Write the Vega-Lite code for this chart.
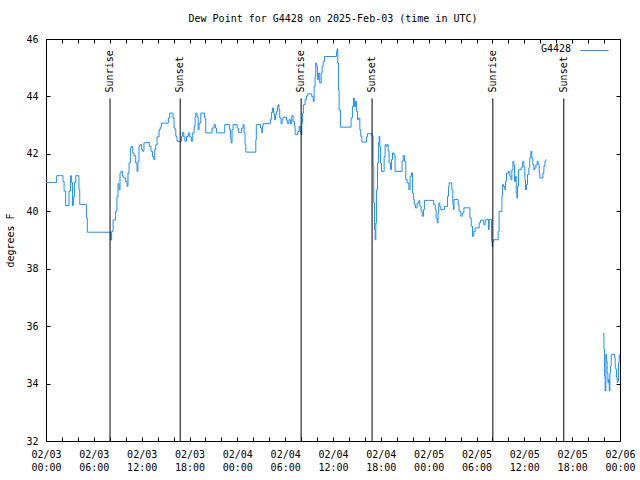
{
  "$schema": "https://vega.github.io/schema/vega-lite/v6.json",
  "width": 574,
  "height": 402,
  "autosize": {"type": "none"},
  "padding": {"left": 46, "top": 39, "right": 20, "bottom": 39},
  "background": "white",
  "title": {"text": "Dew Point for G4428 on 2025-Feb-03 (time in UTC)", "font": "DejaVu Sans Mono", "fontSize": 10, "fontWeight": "normal", "anchor": "middle", "frame": "group", "offset": 10, "color": "black"},
  "config": {
    "font": "DejaVu Sans Mono",
    "view": {"stroke": "black", "strokeWidth": 1},
    "axis": {"grid": false, "domain": false, "ticks": true, "zindex": 1, "tickColor": "black", "tickOpacity": 1, "labelColor": "black", "labelFont": "DejaVu Sans Mono", "labelFontSize": 10, "titleFont": "DejaVu Sans Mono", "titleFontSize": 10, "titleFontWeight": "normal", "titleColor": "black", "tickSize": 4, "offset": -4, "tickWidth": 1},
    "legend": {"titleFont": "DejaVu Sans Mono", "titleFontSize": 10, "titleFontWeight": "normal", "titleColor": "black", "labelFont": "DejaVu Sans Mono"}
  },
  "datasets": {
    "dp": [
      {"t": "2025-02-03T00:00Z", "v": 41.0}, {"t": "2025-02-03T01:20Z", "v": 41.24}, {"t": "2025-02-03T02:08Z", "v": 41.04}, {"t": "2025-02-03T02:16Z", "v": 40.7}, {"t": "2025-02-03T02:28Z", "v": 40.2}, {"t": "2025-02-03T02:53Z", "v": 40.7}, {"t": "2025-02-03T03:04Z", "v": 41.24}, {"t": "2025-02-03T03:11Z", "v": 41.0}, {"t": "2025-02-03T03:19Z", "v": 40.2}, {"t": "2025-02-03T03:26Z", "v": 40.5}, {"t": "2025-02-03T03:34Z", "v": 41.0}, {"t": "2025-02-03T03:44Z", "v": 41.24}, {"t": "2025-02-03T04:08Z", "v": 40.75}, {"t": "2025-02-03T04:14Z", "v": 40.24}, {"t": "2025-02-03T05:04Z", "v": 39.77}, {"t": "2025-02-03T05:11Z", "v": 39.27},
      {"t": "2025-02-03T08:07Z", "v": 39.0}, {"t": "2025-02-03T08:14Z", "v": 39.3}, {"t": "2025-02-03T08:25Z", "v": 39.7}, {"t": "2025-02-03T08:44Z", "v": 40.0}, {"t": "2025-02-03T08:54Z", "v": 40.5}, {"t": "2025-02-03T09:02Z", "v": 40.96}, {"t": "2025-02-03T09:10Z", "v": 40.75}, {"t": "2025-02-03T09:17Z", "v": 41.33}, {"t": "2025-02-03T09:25Z", "v": 41.39}, {"t": "2025-02-03T09:37Z", "v": 41.22}, {"t": "2025-02-03T09:45Z", "v": 41.16}, {"t": "2025-02-03T10:00Z", "v": 41.04}, {"t": "2025-02-03T10:10Z", "v": 40.87}, {"t": "2025-02-03T10:17Z", "v": 41.33}, {"t": "2025-02-03T10:25Z", "v": 41.68}, {"t": "2025-02-03T10:35Z", "v": 42.21}, {"t": "2025-02-03T10:43Z", "v": 42.26}, {"t": "2025-02-03T10:53Z", "v": 42.03}, {"t": "2025-02-03T11:02Z", "v": 41.94}, {"t": "2025-02-03T11:15Z", "v": 41.68}, {"t": "2025-02-03T11:25Z", "v": 41.39}, {"t": "2025-02-03T11:32Z", "v": 41.74}, {"t": "2025-02-03T11:40Z", "v": 42.26}, {"t": "2025-02-03T11:46Z", "v": 42.32}, {"t": "2025-02-03T11:59Z", "v": 42.15}, {"t": "2025-02-03T12:07Z", "v": 42.09}, {"t": "2025-02-03T12:17Z", "v": 42.38}, {"t": "2025-02-03T12:30Z", "v": 42.4}, {"t": "2025-02-03T12:57Z", "v": 42.26}, {"t": "2025-02-03T13:10Z", "v": 42.09}, {"t": "2025-02-03T13:21Z", "v": 41.91}, {"t": "2025-02-03T13:31Z", "v": 41.8}, {"t": "2025-02-03T13:38Z", "v": 42.15}, {"t": "2025-02-03T13:46Z", "v": 42.32}, {"t": "2025-02-03T13:56Z", "v": 42.59}, {"t": "2025-02-03T14:11Z", "v": 42.84}, {"t": "2025-02-03T14:20Z", "v": 42.93}, {"t": "2025-02-03T14:28Z", "v": 43.07}, {"t": "2025-02-03T15:21Z", "v": 43.25}, {"t": "2025-02-03T15:31Z", "v": 43.42}, {"t": "2025-02-03T15:56Z", "v": 43.25}, {"t": "2025-02-03T16:04Z", "v": 42.9}, {"t": "2025-02-03T16:12Z", "v": 42.84}, {"t": "2025-02-03T16:17Z", "v": 42.61}, {"t": "2025-02-03T16:26Z", "v": 42.44}, {"t": "2025-02-03T17:00Z", "v": 42.61}, {"t": "2025-02-03T17:07Z", "v": 42.75}, {"t": "2025-02-03T17:17Z", "v": 42.59}, {"t": "2025-02-03T17:26Z", "v": 42.44}, {"t": "2025-02-03T17:37Z", "v": 42.61}, {"t": "2025-02-03T17:52Z", "v": 42.73}, {"t": "2025-02-03T18:02Z", "v": 42.59}, {"t": "2025-02-03T18:14Z", "v": 42.44}, {"t": "2025-02-03T18:24Z", "v": 42.73}, {"t": "2025-02-03T18:35Z", "v": 42.96}, {"t": "2025-02-03T18:42Z", "v": 43.28}, {"t": "2025-02-03T18:47Z", "v": 43.42}, {"t": "2025-02-03T18:57Z", "v": 43.28}, {"t": "2025-02-03T19:05Z", "v": 42.84}, {"t": "2025-02-03T19:12Z", "v": 43.07}, {"t": "2025-02-03T19:25Z", "v": 43.42}, {"t": "2025-02-03T19:52Z", "v": 43.25}, {"t": "2025-02-03T20:02Z", "v": 42.73}, {"t": "2025-02-03T20:50Z", "v": 42.9}, {"t": "2025-02-03T21:05Z", "v": 43.02}, {"t": "2025-02-03T21:15Z", "v": 42.9}, {"t": "2025-02-03T21:23Z", "v": 42.73}, {"t": "2025-02-03T22:25Z", "v": 43.02}, {"t": "2025-02-03T23:00Z", "v": 42.84}, {"t": "2025-02-03T23:08Z", "v": 42.55}, {"t": "2025-02-03T23:13Z", "v": 42.38}, {"t": "2025-02-03T23:20Z", "v": 42.84}, {"t": "2025-02-03T23:28Z", "v": 43.02}, {"t": "2025-02-03T23:58Z", "v": 42.9},
      {"t": "2025-02-04T00:08Z", "v": 42.75}, {"t": "2025-02-04T00:33Z", "v": 42.9}, {"t": "2025-02-04T00:43Z", "v": 43.02}, {"t": "2025-02-04T00:51Z", "v": 42.73}, {"t": "2025-02-04T00:58Z", "v": 42.32}, {"t": "2025-02-04T01:04Z", "v": 42.06}, {"t": "2025-02-04T02:19Z", "v": 42.49}, {"t": "2025-02-04T02:23Z", "v": 43.02}, {"t": "2025-02-04T02:54Z", "v": 42.9}, {"t": "2025-02-04T03:04Z", "v": 42.73}, {"t": "2025-02-04T03:09Z", "v": 42.96}, {"t": "2025-02-04T03:14Z", "v": 43.05}, {"t": "2025-02-04T04:09Z", "v": 43.19}, {"t": "2025-02-04T04:16Z", "v": 43.44}, {"t": "2025-02-04T04:24Z", "v": 43.6}, {"t": "2025-02-04T04:32Z", "v": 43.42}, {"t": "2025-02-04T04:39Z", "v": 43.19}, {"t": "2025-02-04T04:47Z", "v": 43.36}, {"t": "2025-02-04T04:54Z", "v": 43.48}, {"t": "2025-02-04T05:02Z", "v": 43.65}, {"t": "2025-02-04T05:07Z", "v": 43.71}, {"t": "2025-02-04T05:14Z", "v": 43.54}, {"t": "2025-02-04T05:19Z", "v": 43.25}, {"t": "2025-02-04T05:29Z", "v": 43.05}, {"t": "2025-02-04T05:37Z", "v": 43.19}, {"t": "2025-02-04T05:44Z", "v": 43.28}, {"t": "2025-02-04T06:10Z", "v": 43.17}, {"t": "2025-02-04T06:19Z", "v": 43.05}, {"t": "2025-02-04T06:29Z", "v": 43.19}, {"t": "2025-02-04T06:40Z", "v": 43.05}, {"t": "2025-02-04T06:50Z", "v": 43.33}, {"t": "2025-02-04T06:59Z", "v": 43.13}, {"t": "2025-02-04T07:10Z", "v": 42.96}, {"t": "2025-02-04T07:15Z", "v": 42.67}, {"t": "2025-02-04T07:35Z", "v": 42.78}, {"t": "2025-02-04T07:45Z", "v": 42.96}, {"t": "2025-02-04T07:52Z", "v": 42.78}, {"t": "2025-02-04T08:00Z", "v": 42.67}, {"t": "2025-02-04T08:05Z", "v": 43.07}, {"t": "2025-02-04T08:10Z", "v": 43.42}, {"t": "2025-02-04T08:17Z", "v": 43.71}, {"t": "2025-02-04T08:30Z", "v": 43.89}, {"t": "2025-02-04T08:40Z", "v": 44.02}, {"t": "2025-02-04T08:50Z", "v": 44.09}, {"t": "2025-02-04T09:20Z", "v": 44.0}, {"t": "2025-02-04T09:31Z", "v": 43.83}, {"t": "2025-02-04T09:38Z", "v": 44.35}, {"t": "2025-02-04T09:45Z", "v": 44.7}, {"t": "2025-02-04T09:50Z", "v": 45.16}, {"t": "2025-02-04T09:58Z", "v": 45.04}, {"t": "2025-02-04T10:03Z", "v": 44.58}, {"t": "2025-02-04T10:10Z", "v": 44.81}, {"t": "2025-02-04T10:20Z", "v": 44.47}, {"t": "2025-02-04T10:31Z", "v": 44.81}, {"t": "2025-02-04T10:38Z", "v": 45.04}, {"t": "2025-02-04T10:46Z", "v": 45.22}, {"t": "2025-02-04T10:56Z", "v": 45.39}, {"t": "2025-02-04T12:26Z", "v": 45.57}, {"t": "2025-02-04T12:31Z", "v": 45.66}, {"t": "2025-02-04T12:36Z", "v": 45.16}, {"t": "2025-02-04T12:41Z", "v": 44.23}, {"t": "2025-02-04T12:46Z", "v": 43.53}, {"t": "2025-02-04T12:56Z", "v": 42.93}, {"t": "2025-02-04T14:16Z", "v": 43.25}, {"t": "2025-02-04T14:26Z", "v": 43.65}, {"t": "2025-02-04T14:34Z", "v": 43.94}, {"t": "2025-02-04T14:41Z", "v": 43.65}, {"t": "2025-02-04T14:49Z", "v": 43.83}, {"t": "2025-02-04T14:56Z", "v": 43.48}, {"t": "2025-02-04T15:04Z", "v": 43.19}, {"t": "2025-02-04T15:14Z", "v": 43.25}, {"t": "2025-02-04T15:22Z", "v": 42.84}, {"t": "2025-02-04T15:29Z", "v": 42.61}, {"t": "2025-02-04T15:37Z", "v": 42.41}, {"t": "2025-02-04T16:12Z", "v": 42.59}, {"t": "2025-02-04T16:19Z", "v": 42.7}, {"t": "2025-02-04T16:55Z", "v": 42.61}, {"t": "2025-02-04T17:02Z", "v": 41.57}, {"t": "2025-02-04T17:07Z", "v": 40.29}, {"t": "2025-02-04T17:12Z", "v": 39.36}, {"t": "2025-02-04T17:17Z", "v": 39.01}, {"t": "2025-02-04T17:22Z", "v": 39.59}, {"t": "2025-02-04T17:27Z", "v": 40.75}, {"t": "2025-02-04T17:35Z", "v": 41.68}, {"t": "2025-02-04T17:42Z", "v": 42.38}, {"t": "2025-02-04T17:47Z", "v": 42.61}, {"t": "2025-02-04T17:52Z", "v": 42.26}, {"t": "2025-02-04T17:58Z", "v": 41.68}, {"t": "2025-02-04T18:05Z", "v": 41.39}, {"t": "2025-02-04T18:25Z", "v": 41.91}, {"t": "2025-02-04T18:32Z", "v": 42.32}, {"t": "2025-02-04T18:40Z", "v": 42.26}, {"t": "2025-02-04T18:47Z", "v": 42.32}, {"t": "2025-02-04T18:55Z", "v": 42.09}, {"t": "2025-02-04T19:02Z", "v": 41.68}, {"t": "2025-02-04T19:13Z", "v": 41.45}, {"t": "2025-02-04T19:20Z", "v": 41.8}, {"t": "2025-02-04T19:28Z", "v": 42.03}, {"t": "2025-02-04T19:38Z", "v": 41.97}, {"t": "2025-02-04T19:47Z", "v": 41.39}, {"t": "2025-02-04T20:40Z", "v": 41.74}, {"t": "2025-02-04T20:48Z", "v": 41.94}, {"t": "2025-02-04T20:58Z", "v": 41.74}, {"t": "2025-02-04T21:08Z", "v": 41.1}, {"t": "2025-02-04T21:18Z", "v": 40.99}, {"t": "2025-02-04T21:31Z", "v": 40.75}, {"t": "2025-02-04T21:40Z", "v": 41.22}, {"t": "2025-02-04T21:50Z", "v": 41.34}, {"t": "2025-02-04T21:58Z", "v": 40.64}, {"t": "2025-02-04T22:05Z", "v": 40.41}, {"t": "2025-02-04T22:11Z", "v": 40.23}, {"t": "2025-02-04T22:21Z", "v": 40.12}, {"t": "2025-02-04T22:33Z", "v": 40.29}, {"t": "2025-02-04T22:46Z", "v": 40.38}, {"t": "2025-02-04T22:53Z", "v": 40.18}, {"t": "2025-02-04T23:03Z", "v": 40.0}, {"t": "2025-02-04T23:11Z", "v": 39.83}, {"t": "2025-02-04T23:21Z", "v": 40.06}, {"t": "2025-02-04T23:28Z", "v": 40.38},
      {"t": "2025-02-05T00:38Z", "v": 40.23}, {"t": "2025-02-05T00:49Z", "v": 40.06}, {"t": "2025-02-05T00:56Z", "v": 39.77}, {"t": "2025-02-05T01:04Z", "v": 39.6}, {"t": "2025-02-05T01:11Z", "v": 39.94}, {"t": "2025-02-05T01:16Z", "v": 40.29}, {"t": "2025-02-05T01:24Z", "v": 40.17}, {"t": "2025-02-05T01:31Z", "v": 40.06}, {"t": "2025-02-05T01:59Z", "v": 40.17}, {"t": "2025-02-05T02:22Z", "v": 40.52}, {"t": "2025-02-05T02:29Z", "v": 40.87}, {"t": "2025-02-05T02:34Z", "v": 40.99}, {"t": "2025-02-05T02:54Z", "v": 40.75}, {"t": "2025-02-05T03:02Z", "v": 40.23}, {"t": "2025-02-05T03:07Z", "v": 40.06}, {"t": "2025-02-05T03:11Z", "v": 40.41}, {"t": "2025-02-05T03:42Z", "v": 40.23}, {"t": "2025-02-05T03:49Z", "v": 40.0}, {"t": "2025-02-05T04:02Z", "v": 39.83}, {"t": "2025-02-05T04:12Z", "v": 39.94}, {"t": "2025-02-05T04:25Z", "v": 40.12}, {"t": "2025-02-05T05:10Z", "v": 39.77}, {"t": "2025-02-05T05:20Z", "v": 39.48}, {"t": "2025-02-05T05:30Z", "v": 39.13}, {"t": "2025-02-05T05:40Z", "v": 39.3}, {"t": "2025-02-05T05:50Z", "v": 39.42}, {"t": "2025-02-05T06:20Z", "v": 39.6}, {"t": "2025-02-05T06:30Z", "v": 39.69}, {"t": "2025-02-05T06:55Z", "v": 39.54}, {"t": "2025-02-05T07:05Z", "v": 39.65}, {"t": "2025-02-05T07:10Z", "v": 39.71}, {"t": "2025-02-05T07:30Z", "v": 39.36}, {"t": "2025-02-05T07:35Z", "v": 39.71}, {"t": "2025-02-05T07:53Z", "v": 38.96}, {"t": "2025-02-05T07:58Z", "v": 38.78}, {"t": "2025-02-05T08:03Z", "v": 38.96}, {"t": "2025-02-05T08:10Z", "v": 39.01}, {"t": "2025-02-05T08:43Z", "v": 39.3}, {"t": "2025-02-05T08:50Z", "v": 40.0}, {"t": "2025-02-05T09:11Z", "v": 40.52}, {"t": "2025-02-05T09:16Z", "v": 40.93}, {"t": "2025-02-05T09:23Z", "v": 40.87}, {"t": "2025-02-05T09:33Z", "v": 40.75}, {"t": "2025-02-05T09:38Z", "v": 41.04}, {"t": "2025-02-05T09:46Z", "v": 41.33}, {"t": "2025-02-05T10:01Z", "v": 41.39}, {"t": "2025-02-05T10:11Z", "v": 41.22}, {"t": "2025-02-05T10:19Z", "v": 41.1}, {"t": "2025-02-05T10:26Z", "v": 41.45}, {"t": "2025-02-05T10:34Z", "v": 41.74}, {"t": "2025-02-05T10:41Z", "v": 41.62}, {"t": "2025-02-05T10:46Z", "v": 41.04}, {"t": "2025-02-05T10:53Z", "v": 41.22}, {"t": "2025-02-05T10:59Z", "v": 40.64}, {"t": "2025-02-05T11:04Z", "v": 40.46}, {"t": "2025-02-05T11:09Z", "v": 40.87}, {"t": "2025-02-05T11:16Z", "v": 41.45}, {"t": "2025-02-05T11:36Z", "v": 41.51}, {"t": "2025-02-05T11:44Z", "v": 41.62}, {"t": "2025-02-05T11:49Z", "v": 41.74}, {"t": "2025-02-05T11:56Z", "v": 41.54}, {"t": "2025-02-05T12:04Z", "v": 41.1}, {"t": "2025-02-05T12:09Z", "v": 40.75}, {"t": "2025-02-05T12:16Z", "v": 40.93}, {"t": "2025-02-05T12:24Z", "v": 41.28}, {"t": "2025-02-05T12:34Z", "v": 41.51}, {"t": "2025-02-05T12:41Z", "v": 41.86}, {"t": "2025-02-05T12:49Z", "v": 42.09}, {"t": "2025-02-05T12:56Z", "v": 41.86}, {"t": "2025-02-05T13:04Z", "v": 41.62}, {"t": "2025-02-05T13:12Z", "v": 41.45}, {"t": "2025-02-05T13:19Z", "v": 41.51}, {"t": "2025-02-05T13:27Z", "v": 41.62}, {"t": "2025-02-05T13:37Z", "v": 41.74}, {"t": "2025-02-05T13:44Z", "v": 41.62}, {"t": "2025-02-05T13:52Z", "v": 41.33}, {"t": "2025-02-05T13:57Z", "v": 41.16}, {"t": "2025-02-05T14:20Z", "v": 41.33}, {"t": "2025-02-05T14:27Z", "v": 41.57}, {"t": "2025-02-05T14:35Z", "v": 41.74}, {"t": "2025-02-05T14:42Z", "v": 41.8}, {"t": "2025-02-05T14:45Z", "v": 41.8}
    ],
    "dp_late": [
      {"t": "2025-02-05T21:54Z", "v": 35.75}, {"t": "2025-02-05T21:59Z", "v": 35.21}, {"t": "2025-02-05T22:04Z", "v": 34.26}, {"t": "2025-02-05T22:08Z", "v": 33.74}, {"t": "2025-02-05T22:14Z", "v": 35.02}, {"t": "2025-02-05T22:19Z", "v": 34.79}, {"t": "2025-02-05T22:23Z", "v": 34.37}, {"t": "2025-02-05T22:29Z", "v": 34.03}, {"t": "2025-02-05T22:34Z", "v": 34.14}, {"t": "2025-02-05T22:39Z", "v": 33.74}, {"t": "2025-02-05T22:44Z", "v": 34.37}, {"t": "2025-02-05T22:49Z", "v": 34.61}, {"t": "2025-02-05T22:54Z", "v": 35.02}, {"t": "2025-02-05T23:19Z", "v": 34.9}, {"t": "2025-02-05T23:24Z", "v": 34.55}, {"t": "2025-02-05T23:29Z", "v": 34.49}, {"t": "2025-02-05T23:34Z", "v": 34.2}, {"t": "2025-02-05T23:39Z", "v": 34.03}, {"t": "2025-02-05T23:44Z", "v": 34.09}, {"t": "2025-02-05T23:49Z", "v": 34.72}, {"t": "2025-02-05T23:54Z", "v": 35.02}
    ],
    "sun": [
      {"t": "2025-02-03T08:02Z", "label": "Sunrise"},
      {"t": "2025-02-03T16:50Z", "label": "Sunset"},
      {"t": "2025-02-04T08:00Z", "label": "Sunrise"},
      {"t": "2025-02-04T16:54Z", "label": "Sunset"},
      {"t": "2025-02-05T08:03Z", "label": "Sunrise"},
      {"t": "2025-02-05T16:57Z", "label": "Sunset"}
    ]
  },
  "layer": [
    {
      "data": {"name": "dp"},
      "mark": {"type": "line", "interpolate": "step-after", "strokeWidth": 1, "clip": true},
      "encoding": {
        "x": {"field": "t", "type": "temporal",
          "scale": {"type": "utc", "domain": [{"year": 2025, "month": 2, "date": 3, "utc": true}, {"year": 2025, "month": 2, "date": 6, "utc": true}], "nice": false},
          "axis": {"orient": "bottom", "title": null, "ticks": true, "tickSize": 4, "tickColor": "black", "tickWidth": 1,
            "values": [1738540800000, 1738548000000, 1738555200000, 1738562400000, 1738569600000, 1738576800000, 1738584000000, 1738591200000, 1738598400000, 1738605600000, 1738612800000, 1738620000000, 1738627200000, 1738634400000, 1738641600000, 1738648800000, 1738656000000, 1738663200000, 1738670400000, 1738677600000, 1738684800000, 1738692000000, 1738699200000, 1738706400000, 1738713600000, 1738720800000, 1738728000000, 1738735200000, 1738742400000, 1738749600000, 1738756800000, 1738764000000, 1738771200000, 1738778400000, 1738785600000, 1738792800000, 1738800000000],
            "labelExpr": "utchours(datum.value) % 6 == 0 ? [utcFormat(datum.value, '%m/%d'), utcFormat(datum.value, '%H:%M')] : ''",
            "labelOverlap": false, "labelFlush": false, "labelPadding": 8, "labelLineHeight": 13, "labelBaseline": "top"}},
        "y": {"field": "v", "type": "quantitative",
          "scale": {"domain": [32, 46], "nice": false, "zero": false},
          "axis": {"orient": "left", "ticks": true, "tickSize": 4, "tickColor": "black", "tickWidth": 1, "values": [32, 34, 36, 38, 40, 42, 44, 46], "title": "degrees F", "labelPadding": 8, "titlePadding": 10}},
        "color": {"datum": "G4428", "scale": {"range": ["#1e8fff"]},
          "legend": {"title": "G4428", "titleOrient": "left", "titleAnchor": "middle", "titleBaseline": "middle", "titlePadding": 29, "orient": "top-right", "offset": 4, "padding": 0, "symbolType": "M-4,0H0", "symbolSize": 196, "symbolStrokeWidth": 1, "labelExpr": "''", "labelOffset": 0}}
      }
    },
    {
      "data": {"name": "dp_late"},
      "mark": {"type": "line", "interpolate": "step-after", "strokeWidth": 1, "color": "#1e8fff", "clip": true},
      "encoding": {
        "x": {"field": "t", "type": "temporal", "axis": null},
        "y": {"field": "v", "type": "quantitative", "axis": null}
      }
    },
    {
      "data": {"name": "sun"},
      "mark": {"type": "rule", "color": "black", "strokeWidth": 1},
      "encoding": {
        "x": {"field": "t", "type": "temporal", "axis": null},
        "y": {"datum": 43.93, "axis": null},
        "y2": {"datum": 32}
      }
    },
    {
      "data": {"name": "sun"},
      "mark": {"type": "text", "angle": 270, "align": "left", "baseline": "middle", "dx": 4, "fontSize": 10, "font": "DejaVu Sans Mono", "color": "black"},
      "encoding": {
        "x": {"field": "t", "type": "temporal", "axis": null},
        "y": {"datum": 44, "axis": null},
        "text": {"field": "label"}
      }
    },
    {
      "data": {"name": "sun"},
      "mark": {"type": "point", "opacity": 0, "size": 0},
      "encoding": {
        "x": {"field": "t", "type": "temporal", "axis": {"orient": "top", "title": null, "labels": false, "ticks": true, "tickSize": 4, "tickColor": "black", "tickWidth": 1,
          "values": [1738540800000, 1738548000000, 1738555200000, 1738562400000, 1738569600000, 1738576800000, 1738584000000, 1738591200000, 1738598400000, 1738605600000, 1738612800000, 1738620000000, 1738627200000, 1738634400000, 1738641600000, 1738648800000, 1738656000000, 1738663200000, 1738670400000, 1738677600000, 1738684800000, 1738692000000, 1738699200000, 1738706400000, 1738713600000, 1738720800000, 1738728000000, 1738735200000, 1738742400000, 1738749600000, 1738756800000, 1738764000000, 1738771200000, 1738778400000, 1738785600000, 1738792800000, 1738800000000]}},
        "y": {"datum": 40, "axis": {"orient": "right", "title": null, "labels": false, "ticks": true, "tickSize": 4, "tickColor": "black", "tickWidth": 1, "values": [32, 34, 36, 38, 40, 42, 44, 46]}}
      }
    }
  ],
  "resolve": {"axis": {"x": "independent", "y": "independent"}}
}
